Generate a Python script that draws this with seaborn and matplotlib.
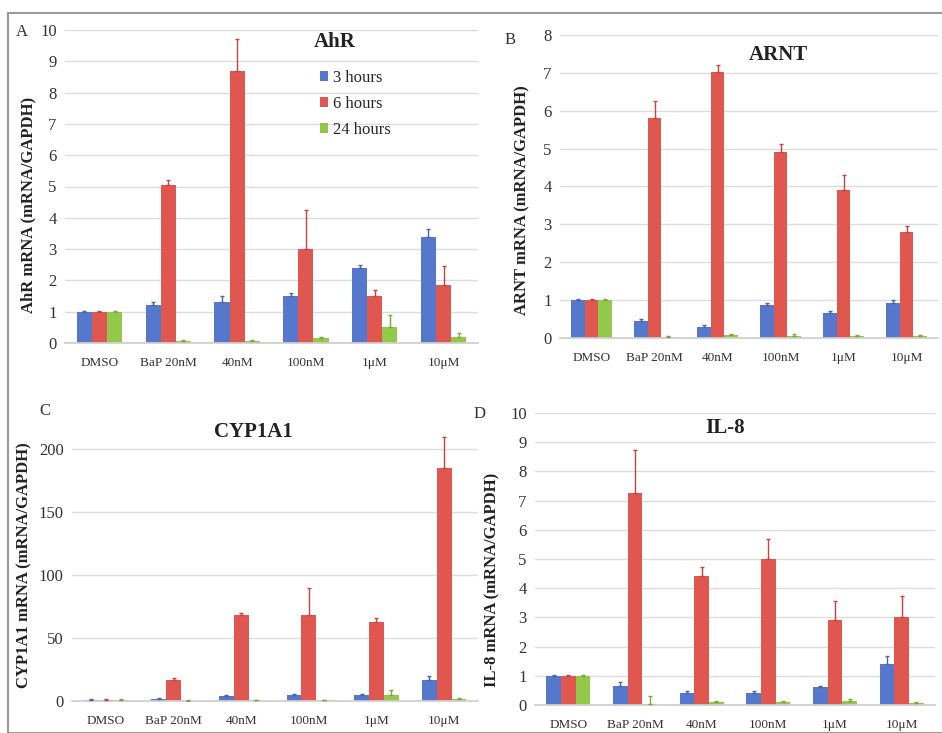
import numpy as np
import pandas as pd
import matplotlib
matplotlib.use("Agg")
import matplotlib.pyplot as plt
import seaborn as sns
from matplotlib.patches import Rectangle

categories = ["DMSO", "BaP 20nM", "40nM", "100nM", "1μM", "10μM"]
series = ["3 hours", "6 hours", "24 hours"]

ahr_3h = [1.0, 1.2, 1.3, 1.5, 2.4, 3.4]
ahr_6h = [1.0, 5.05, 8.7, 3.0, 1.5, 1.85]
ahr_24h = [1.0, 0.05, 0.05, 0.15, 0.5, 0.2]
ahr_3h_err = [0.02, 0.1, 0.2, 0.1, 0.1, 0.25]
ahr_6h_err = [0.02, 0.15, 1.0, 1.25, 0.18, 0.6]
ahr_24h_err = [0.02, 0.05, 0.03, 0.05, 0.4, 0.12]

arnt_3h = [1.0, 0.45, 0.3, 0.88, 0.65, 0.92]
arnt_6h = [1.0, 5.82, 7.02, 4.92, 3.92, 2.8]
arnt_24h = [1.0, 0.03, 0.08, 0.05, 0.05, 0.05]
arnt_3h_err = [0.02, 0.05, 0.05, 0.05, 0.05, 0.08]
arnt_6h_err = [0.02, 0.45, 0.2, 0.2, 0.38, 0.15]
arnt_24h_err = [0.02, 0.02, 0.02, 0.06, 0.03, 0.04]

cyp_3h = [1.0, 1.5, 4.0, 4.5, 4.5, 17.0]
cyp_6h = [1.0, 17.0, 68.0, 68.0, 63.0, 185.0]
cyp_24h = [1.0, 0.3, 0.5, 0.5, 5.0, 1.5]
cyp_3h_err = [0.3, 0.5, 1.0, 1.0, 1.0, 3.0]
cyp_6h_err = [0.3, 1.5, 2.0, 22.0, 3.0, 25.0]
cyp_24h_err = [0.3, 0.1, 0.2, 0.2, 4.0, 0.5]

il8_3h = [1.0, 0.65, 0.42, 0.42, 0.6, 1.42]
il8_6h = [1.0, 7.25, 4.42, 5.0, 2.9, 3.0]
il8_24h = [1.0, 0.02, 0.1, 0.1, 0.15, 0.08]
il8_3h_err = [0.02, 0.15, 0.05, 0.05, 0.05, 0.25]
il8_6h_err = [0.02, 1.5, 0.3, 0.7, 0.65, 0.72]
il8_24h_err = [0.02, 0.3, 0.03, 0.05, 0.05, 0.03]

colors = ["#5577cc", "#e0574f", "#93c94a"]
err_colors = ["#4a64a8", "#c0463f", "#7aa83a"]

sns.set_theme(style="white")
plt.rcParams["font.family"] = ["Liberation Serif", "DejaVu Serif"]

fig = plt.figure(figsize=(9.42, 7.33), dpi=100)
W, H = 942, 733


def make_ax(x0, x1, ytop, ybot):
    return fig.add_axes([x0 / W, 1 - ybot / H, (x1 - x0) / W, (ybot - ytop) / H])


def panel(ax, vals, errs, ylim, yticks, legend=False):
    df = pd.DataFrame({
        "cat": categories * 3,
        "series": sum([[s] * len(categories) for s in series], []),
        "value": vals[0] + vals[1] + vals[2],
    })
    sns.barplot(data=df, x="cat", y="value", hue="series", order=categories,
                hue_order=series, palette=colors, width=0.66, ax=ax,
                errorbar=None, legend=legend, saturation=1, linewidth=0)
    bars = list(ax.patches)[:18]
    for si in range(3):
        for ci in range(6):
            p = bars[si * 6 + ci]
            xc = p.get_x() + p.get_width() / 2
            ax.errorbar(xc, vals[si][ci], yerr=[[0], [errs[si][ci]]],
                        fmt="none", ecolor=err_colors[si], elinewidth=1.0,
                        capsize=1.5, capthick=1.0, zorder=3)
    ax.set_ylim(*ylim)
    ax.set_yticks(yticks)
    ax.set_xlim(-0.5, 5.5)
    ax.yaxis.grid(True, color="#dcdcdc", linewidth=1.0)
    ax.set_axisbelow(True)
    for s in ["top", "right", "left"]:
        ax.spines[s].set_visible(False)
    ax.spines["bottom"].set_color("#cfcfcf")
    ax.tick_params(axis="x", labelsize=9.5, colors="#333333", length=0, pad=10)
    ax.tick_params(axis="y", labelsize=12, colors="#333333", length=0, pad=6)
    ax.set_xlabel("")
    ax.set_ylabel("")
    if legend:
        ax.legend(loc="upper left", bbox_to_anchor=(0.58, 0.92), frameon=False,
                  fontsize=12, handlelength=0.5, handleheight=0.5,
                  handletextpad=0.3, labelspacing=0.6)


axA = make_ax(65, 478, 30, 343)
panel(axA, [ahr_3h, ahr_6h, ahr_24h], [ahr_3h_err, ahr_6h_err, ahr_24h_err],
      (0, 10), range(0, 11), legend=True)
axB = make_ax(560, 938, 35, 338)
panel(axB, [arnt_3h, arnt_6h, arnt_24h], [arnt_3h_err, arnt_6h_err, arnt_24h_err],
      (0, 8), range(0, 9))
axC = make_ax(72, 478, 424, 701)
panel(axC, [cyp_3h, cyp_6h, cyp_24h], [cyp_3h_err, cyp_6h_err, cyp_24h_err],
      (0, 220), range(0, 201, 50))
axD = make_ax(535, 935, 413, 705)
panel(axD, [il8_3h, il8_6h, il8_24h], [il8_3h_err, il8_6h_err, il8_24h_err],
      (0, 10), range(0, 11))

# titles
tkw = dict(fontsize=15, fontweight="bold", ha="center", va="center", color="#222222")
fig.text(335 / W, 1 - 42 / H, "AhR", **tkw)
fig.text(778 / W, 1 - 55 / H, "ARNT", **tkw)
fig.text(253 / W, 1 - 432 / H, "CYP1A1", **tkw)
fig.text(725 / W, 1 - 428 / H, "IL-8", **tkw)

# y labels
lkw = dict(fontsize=12, fontweight="bold", rotation=90, ha="center", va="center", color="#222222")
fig.text(28 / W, 1 - 205 / H, "AhR mRNA (mRNA/GAPDH)", **lkw)
fig.text(522 / W, 1 - 200 / H, "ARNT mRNA (mRNA/GAPDH)", **lkw)
fig.text(24 / W, 1 - 565 / H, "CYP1A1 mRNA (mRNA/GAPDH)", **lkw)
fig.text(492 / W, 1 - 580 / H, "IL-8 mRNA (mRNA/GAPDH)", **lkw)

# panel letters
pkw = dict(fontsize=12, ha="center", va="center", color="#333333")
fig.text(22 / W, 1 - 32 / H, "A", **pkw)
fig.text(510 / W, 1 - 40 / H, "B", **pkw)
fig.text(45 / W, 1 - 411 / H, "C", **pkw)
fig.text(480 / W, 1 - 414 / H, "D", **pkw)

fig.patches.append(Rectangle((8 / W, 0), (W - 6) / W, 1 - 13 / H,
                             transform=fig.transFigure, fill=False,
                             edgecolor="#9a9a9a", linewidth=1.5))

fig.savefig("out.png", dpi=100, facecolor="white")
